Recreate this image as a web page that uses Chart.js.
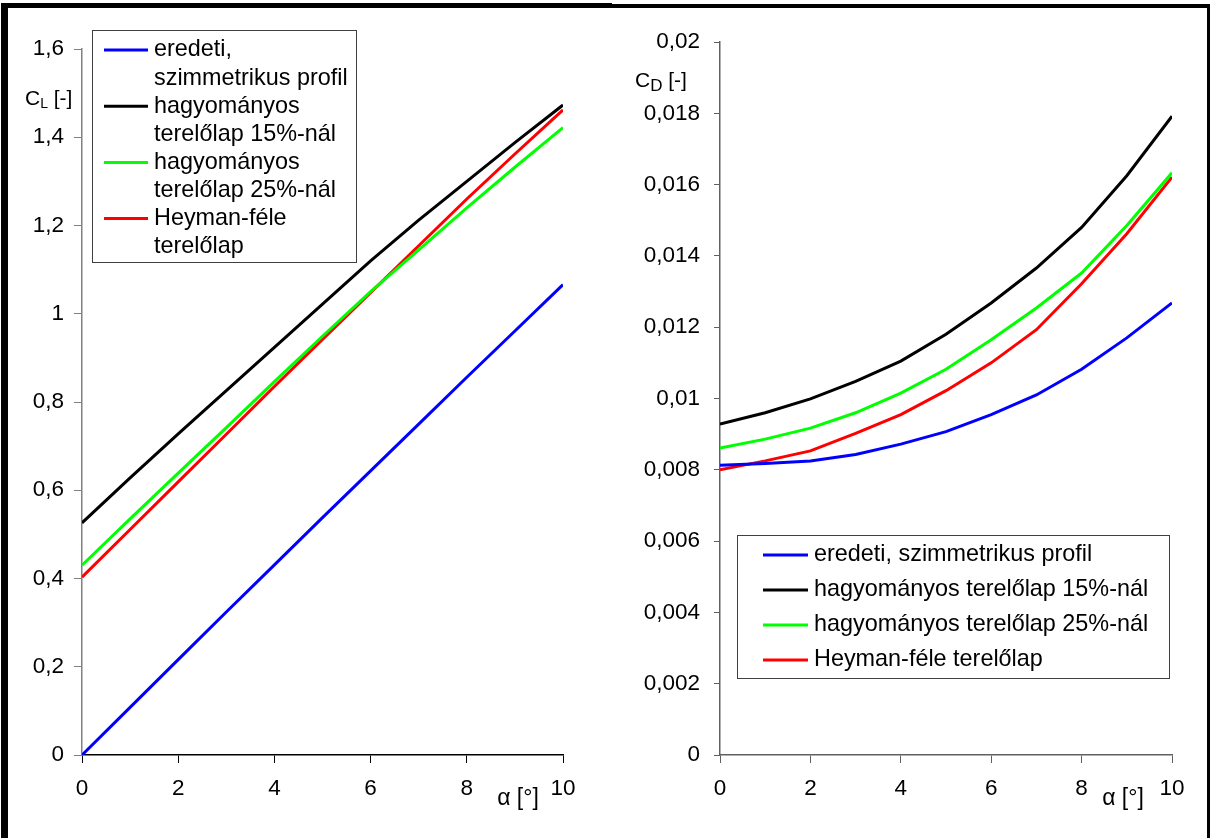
<!DOCTYPE html>
<html>
<head>
<meta charset="utf-8">
<script src="https://cdn.jsdelivr.net/npm/chart.js@4.4.1/dist/chart.umd.min.js"></script>
<style>
  html, body { margin: 0; padding: 0; background: #fff; width: 1211px; height: 838px; overflow: hidden; }
  .panel { position: absolute; top: 0; height: 838px; }
  .bar { position: absolute; background: #000; z-index: 5; }
</style>
</head>
<body>
<div class="panel" style="left:0;width:612px;"><canvas id="cl"></canvas></div>
<div class="panel" style="left:612px;width:599px;"><canvas id="cd"></canvas></div>
<div class="bar" style="left:1px;top:3px;width:611px;height:5px;"></div>
<div class="bar" style="left:1px;top:3px;width:7px;height:835px;"></div>
<div class="bar" style="left:612px;top:4px;width:598px;height:4px;"></div>
<div class="bar" style="left:1207px;top:4px;width:3px;height:834px;"></div>
<script>
// ---- data ----
const alpha = [0, 1, 2, 3, 4, 5, 6, 7, 8, 9, 10];
const seriesLabels = [
  'eredeti, szimmetrikus profil',
  'hagyományos terelőlap 15%-nál',
  'hagyományos terelőlap 25%-nál',
  'Heyman-féle terelőlap'
];
const seriesColors = ['#0000ff', '#000000', '#00ff00', '#ff0000'];

// lift coefficient C_L
const clOriginal = [0, 0.108, 0.216, 0.324, 0.431, 0.538, 0.644, 0.750, 0.856, 0.961, 1.066];
const clFlap15   = [0.526, 0.628, 0.728, 0.826, 0.924, 1.022, 1.120, 1.212, 1.300, 1.388, 1.473];
const clFlap25   = [0.430, 0.535, 0.639, 0.742, 0.846, 0.949, 1.050, 1.145, 1.240, 1.332, 1.422];
const clHeyman   = [0.403, 0.511, 0.619, 0.727, 0.835, 0.942, 1.048, 1.154, 1.260, 1.362, 1.462];

// drag coefficient C_D
const cdOriginal = [0.00813, 0.00818, 0.00825, 0.00843, 0.00872, 0.00907, 0.00955, 0.01010, 0.01082, 0.01170, 0.01268];
const cdFlap15   = [0.00928, 0.00960, 0.00999, 0.01048, 0.01105, 0.01180, 0.01268, 0.01366, 0.01480, 0.01625, 0.01792];
const cdFlap25   = [0.00861, 0.00886, 0.00917, 0.00960, 0.01015, 0.01082, 0.01165, 0.01254, 0.01352, 0.01485, 0.01633];
const cdHeyman   = [0.00800, 0.00825, 0.00853, 0.00902, 0.00955, 0.01022, 0.01100, 0.01193, 0.01322, 0.01462, 0.01621];

// tick labels
const xTickLabels = ['0', '2', '4', '6', '8', '10'];
const clTickLabels = ['0', '0,2', '0,4', '0,6', '0,8', '1', '1,2', '1,4', '1,6'];
const cdTickLabels = ['0', '0,002', '0,004', '0,006', '0,008', '0,01', '0,012', '0,014', '0,016', '0,018', '0,02'];
const xTitle = 'α [°]';

// ---- rendering ----
const FONT = '"Liberation Sans", Arial, sans-serif';

function makeDatasets(arrs) {
  return arrs.map((arr, i) => ({
    label: seriesLabels[i],
    data: alpha.map((a, j) => ({ x: a, y: arr[j] })),
    borderColor: seriesColors[i],
    backgroundColor: seriesColors[i],
    borderWidth: 3,
    pointRadius: 0,
    tension: 0,
    fill: false
  }));
}

function decorPlugin(cfg) {
  return {
    id: 'decor_' + cfg.id,
    afterDatasetsDraw(chart) {
      const ctx = chart.ctx;
      const ca = chart.chartArea;
      ctx.save();
      // y-axis title with subscript
      ctx.fillStyle = '#000';
      ctx.textBaseline = 'alphabetic';
      ctx.textAlign = 'left';
      let x = cfg.yTitle.x;
      const yb = cfg.yTitle.y;
      ctx.font = cfg.yTitle.size + 'px ' + FONT;
      ctx.fillText(cfg.yTitle.main, x, yb);
      x += ctx.measureText(cfg.yTitle.main).width;
      ctx.font = cfg.yTitle.subSize + 'px ' + FONT;
      ctx.fillText(cfg.yTitle.sub, x, yb + cfg.yTitle.subDrop);
      x += ctx.measureText(cfg.yTitle.sub).width;
      ctx.font = cfg.yTitle.size + 'px ' + FONT;
      ctx.fillText(' [-]', x, yb);

      // x-axis title
      ctx.font = cfg.xTitle.size + 'px ' + FONT;
      ctx.textAlign = 'center';
      ctx.textBaseline = 'middle';
      ctx.fillText(xTitle, ca.right + cfg.xTitle.dx, ca.bottom + cfg.xTitle.dy);

      // legend
      const L = cfg.legend;
      ctx.fillStyle = '#fff';
      ctx.fillRect(L.x, L.y, L.w, L.h);
      ctx.strokeStyle = '#404040';
      ctx.lineWidth = 1;
      ctx.strokeRect(L.x + 0.5, L.y + 0.5, L.w, L.h);
      ctx.font = L.size + 'px ' + FONT;
      ctx.textAlign = 'left';
      ctx.textBaseline = 'middle';
      let row = 0;
      chart.data.datasets.forEach((ds) => {
        let lines = [ds.label];
        if (L.wrap) {
          const k = ds.label.indexOf(' ');
          lines = [ds.label.slice(0, k), ds.label.slice(k + 1)];
        }
        const y0 = L.firstY + row * L.rowH;
        ctx.strokeStyle = ds.borderColor;
        ctx.lineWidth = 3;
        ctx.beginPath();
        ctx.moveTo(L.lineX1, y0);
        ctx.lineTo(L.lineX2, y0);
        ctx.stroke();
        ctx.fillStyle = '#000';
        lines.forEach((t, j) => {
          ctx.fillText(t, L.textX, L.firstY + (row + j) * L.rowH);
        });
        row += lines.length;
      });
      ctx.restore();
    }
  };
}

function makeChart(id, datasets, yMax, yStep, yLabels, yWidth, padRight, padTop, tickLen, tickPad, yAxisColor, xAxisColor, plugin) {
  return new Chart(document.getElementById(id), {
    type: 'line',
    data: { datasets },
    options: {
      responsive: true,
      maintainAspectRatio: false,
      animation: false,
      events: [],
      layout: { padding: { left: 0, right: padRight, top: padTop, bottom: 33 } },
      plugins: { legend: { display: false }, tooltip: { enabled: false } },
      scales: {
        x: {
          type: 'linear', min: 0, max: 10,
          afterFit: s => { s.height = 50; },
          ticks: {
            stepSize: 2, maxRotation: 0, color: '#000', padding: 12,
            font: { family: FONT, size: 22.5 },
            callback: v => xTickLabels[Math.round(v / 2)]
          },
          grid: { drawOnChartArea: false, drawTicks: true, tickLength: 8, color: xAxisColor, lineWidth: 1 },
          border: { display: true, color: xAxisColor, width: 1.5 }
        },
        y: {
          type: 'linear', min: 0, max: yMax,
          afterFit: s => { s.width = yWidth; },
          ticks: {
            stepSize: yStep, color: '#000', padding: tickPad,
            font: { family: FONT, size: 22.5 },
            callback: v => yLabels[Math.round(v / yStep)]
          },
          grid: { drawOnChartArea: false, drawTicks: true, tickLength: tickLen, color: yAxisColor, lineWidth: 1 },
          border: { display: true, color: yAxisColor, width: 1.5 }
        }
      }
    },
    plugins: [plugin]
  });
}

makeChart('cl',
  makeDatasets([clOriginal, clFlap15, clFlap25, clHeyman]),
  1.6, 0.2, clTickLabels, 82, 49, 49, 8, 10, '#808080', '#000',
  decorPlugin({
    id: 'cl',
    yTitle: { x: 25, y: 105, size: 21, main: 'C', sub: 'L', subSize: 14, subDrop: 3 },
    xTitle: { dx: -45, dy: 44, size: 23 },
    legend: { x: 92, y: 30, w: 264, h: 232, wrap: true, firstY: 50, rowH: 28.1, lineX1: 104, lineX2: 148, textX: 154, size: 23.4 }
  })
);

makeChart('cd',
  makeDatasets([cdOriginal, cdFlap15, cdFlap25, cdHeyman]),
  0.02, 0.002, cdTickLabels, 108, 39, 42, 6, 14, '#606060', '#606060',
  decorPlugin({
    id: 'cd',
    yTitle: { x: 23, y: 87, size: 21, main: 'C', sub: 'D', subSize: 17, subDrop: 4 },
    xTitle: { dx: -49, dy: 44, size: 23 },
    legend: { x: 125, y: 535, w: 432, h: 143, wrap: false, firstY: 555, rowH: 35, lineX1: 151, lineX2: 196, textX: 202, size: 23.4 }
  })
);
</script>
</body>
</html>
